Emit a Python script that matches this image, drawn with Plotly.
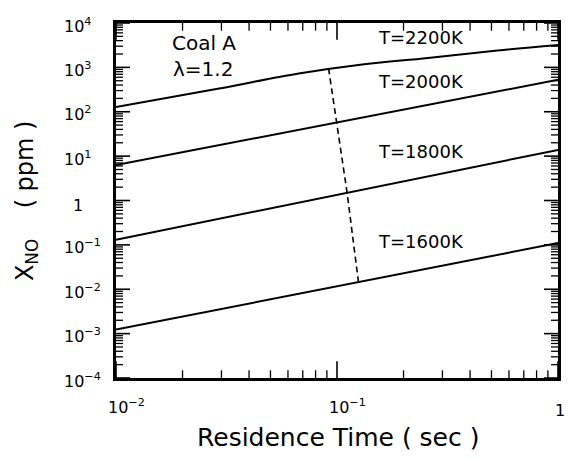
import math
import plotly.graph_objects as go

# Residence time (s) and NO mole fraction (ppm)
t_2200 = [0.01, 0.0293, 0.0671, 0.125, 0.258, 0.532, 1.0]
x_2200 = [128, 335, 729, 1133, 1629, 2403, 3199]
t_2000 = [0.01, 1.0]
x_2000 = [6.3, 525]
t_1800 = [0.01, 1.0]
x_1800 = [0.13, 13.8]
t_1600 = [0.01, 1.0]
x_1600 = [0.00123, 0.11]
t_dash = [0.0916, 0.0995, 0.111, 0.125]
x_dash = [944, 56, 1.55, 0.0148]

labels = ["T=2200K", "T=2000K", "T=1800K", "T=1600K"]
label_t = [0.24, 0.24, 0.24, 0.24]
label_y = [4600, 470, 12.4, 0.117]

ytick_vals = [1e-4, 1e-3, 1e-2, 1e-1, 1, 10, 100, 1e3, 1e4]
ytick_text = ["10<sup>−4</sup>", "10<sup>−3</sup>", "10<sup>−2</sup>", "10<sup>−1</sup>", "1",
              "10<sup>1</sup>", "10<sup>2</sup>", "10<sup>3</sup>", "10<sup>4</sup>"]
xtick_vals = [0.01, 0.1, 1]
xtick_text = ["10<sup>−2</sup>", "10<sup>−1</sup>", "1"]

x_minor = [m * d for d in (0.01, 0.1) for m in range(2, 10)]
y_minor = [m * 10.0 ** e for e in range(-4, 4) for m in range(2, 10)]

X_LO, X_HI = xtick_vals[0], xtick_vals[-1]
Y_LO, Y_HI = ytick_vals[0], ytick_vals[-1]

FONT = "DejaVu Sans, Liberation Sans, Arial, sans-serif"
BLACK = "#000000"

fig = go.Figure()
for t, x in [(t_2200, x_2200), (t_2000, x_2000), (t_1800, x_1800), (t_1600, x_1600)]:
    fig.add_trace(go.Scatter(x=t, y=x, mode="lines", line=dict(color=BLACK, width=2),
                             line_shape="spline", showlegend=False, hoverinfo="skip"))
fig.add_trace(go.Scatter(x=t_dash, y=x_dash, mode="lines",
                         line=dict(color=BLACK, width=1.6, dash="6px,4px"),
                         showlegend=False, hoverinfo="skip"))


# inside tick marks on all four sides: markers centred on the frame, clipped by the plot area
def tick_trace(xs, ys, symbol, size, width):
    return go.Scatter(x=xs, y=ys, mode="markers", cliponaxis=True, showlegend=False,
                      hoverinfo="skip",
                      marker=dict(symbol=symbol, size=size, color=BLACK,
                                  line=dict(color=BLACK, width=width)))


for yedge in (Y_LO, Y_HI):
    fig.add_trace(tick_trace(xtick_vals, [yedge] * len(xtick_vals), "line-ns-open", 24, 1.6))
    fig.add_trace(tick_trace(x_minor, [yedge] * len(x_minor), "line-ns-open", 11, 1.3))
for xedge in (X_LO, X_HI):
    fig.add_trace(tick_trace([xedge] * len(ytick_vals), ytick_vals, "line-ew-open", 20, 1.6))
    fig.add_trace(tick_trace([xedge] * len(y_minor), y_minor, "line-ew-open", 10, 1.3))

# curve labels
for lab, lt, ly in zip(labels, label_t, label_y):
    fig.add_annotation(x=math.log10(lt), y=math.log10(ly), xref="x", yref="y", text=lab,
                       showarrow=False, font=dict(size=18, color=BLACK, family=FONT),
                       xanchor="center", yanchor="middle")

fig.add_annotation(x=(205 - 116) / 445, y=(378 - 42.5) / 355, xref="paper", yref="paper",
                   text="Coal A", showarrow=False, font=dict(size=20, color=BLACK, family=FONT),
                   xanchor="center", yanchor="middle")
fig.add_annotation(x=(204 - 116) / 445, y=(378 - 69) / 355, xref="paper", yref="paper",
                   text="λ=1.2", showarrow=False, font=dict(size=20, color=BLACK, family=FONT),
                   xanchor="center", yanchor="middle")

# y tick labels ("10" part starts at a fixed column)
for v, txt in zip(ytick_vals, ytick_text):
    if txt == "1":
        fig.add_annotation(x=(77.5 - 116) / 445, y=math.log10(v), xref="paper", yref="y",
                           text=txt, showarrow=False, font=dict(size=16, color=BLACK, family=FONT),
                           xanchor="center", yanchor="middle", yshift=-5)
    else:
        fig.add_annotation(x=(62 - 116) / 445, y=math.log10(v), xref="paper", yref="y",
                           text=txt, showarrow=False, font=dict(size=16, color=BLACK, family=FONT),
                           xanchor="left", yanchor="middle", yshift=-2)

# x tick labels ("10" part centred on the tick)
for v, txt in zip(xtick_vals, xtick_text):
    if txt == "1":
        fig.add_annotation(x=math.log10(v), y=-(410 - 378) / 355, xref="x", yref="paper",
                           text=txt, showarrow=False, font=dict(size=16, color=BLACK, family=FONT),
                           xanchor="center", yanchor="middle", xshift=2)
    else:
        fig.add_annotation(x=math.log10(v), y=-(407 - 378) / 355, xref="x", yref="paper",
                           text=txt, showarrow=False, font=dict(size=16, color=BLACK, family=FONT),
                           xanchor="left", yanchor="middle", xshift=-10)

# axis titles
fig.add_annotation(x=(340 - 116) / 445, y=-(437 - 378) / 355, xref="paper", yref="paper",
                   text="Residence Time (\u00a0sec\u00a0)", showarrow=False,
                   font=dict(size=25, color=BLACK, family=FONT), xanchor="center", yanchor="middle")
fig.add_annotation(x=(26 - 116) / 445, y=0.5, xref="paper", yref="paper",
                   text="X<sub>NO</sub>\u00a0\u00a0\u00a0\u00a0(\u00a0ppm\u00a0)", showarrow=False,
                   textangle=-90, font=dict(size=24, color=BLACK, family=FONT),
                   xanchor="center", yanchor="middle")

common = dict(type="log", ticks="", showgrid=False, zeroline=False, showticklabels=False,
              mirror=True, showline=True, linecolor=BLACK, linewidth=2.5)

fig.update_layout(
    xaxis=dict(range=[math.log10(X_LO), math.log10(X_HI)], **common),
    yaxis=dict(range=[math.log10(Y_LO), math.log10(Y_HI)], **common),
    width=568, height=459, margin=dict(l=116, r=7, t=23, b=81),
    plot_bgcolor="white", paper_bgcolor="white")

fig.write_html("out.html")
